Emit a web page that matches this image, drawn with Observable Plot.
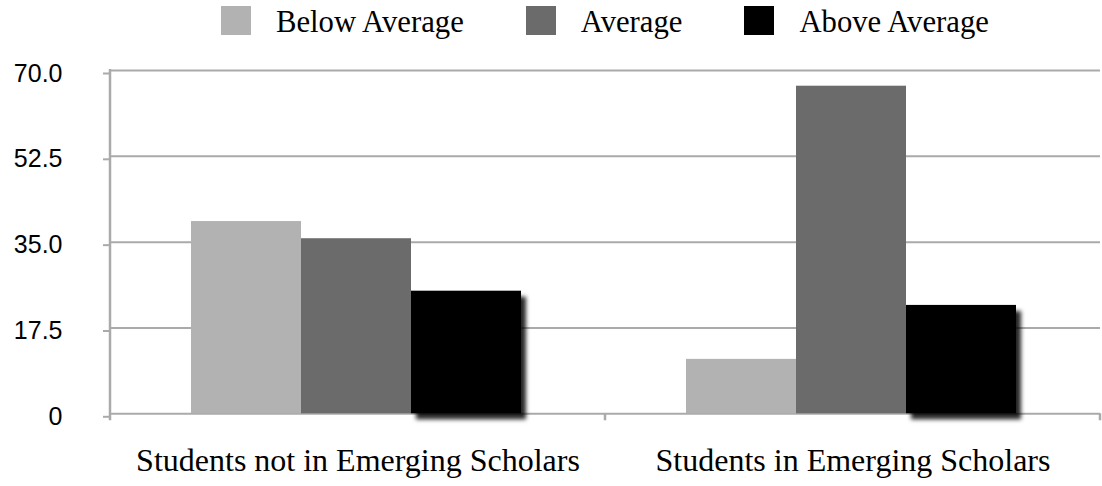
<!DOCTYPE html>
<html><head><meta charset="utf-8">
<script src="https://cdn.jsdelivr.net/npm/d3@7"></script>
<script src="https://cdn.jsdelivr.net/npm/@observablehq/plot@0.6"></script>
<style>
body{margin:0;background:#fff;}
#legend{height:41px;padding-top:7px;display:flex;align-items:flex-start;padding-left:221px;font-family:"Liberation Serif","Times New Roman",serif;font-size:30.7px;line-height:1;color:#000;}
.item{display:flex;align-items:flex-start;margin-right:62px;}
.sw{width:30px;height:29px;margin-right:25px;margin-top:-1px;}
#chart svg{display:block;}
</style></head><body>
<div id="legend"></div>
<div id="chart"></div>
<script>
const categories = ["Students not in Emerging Scholars", "Students in Emerging Scholars"];
const seriesNames = ["Below Average", "Average", "Above Average"];
const belowAverage = [39.2, 11.1];
const average = [35.7, 66.8];
const aboveAverage = [25.0, 22.1];
const yTicks = [0, 17.5, 35, 52.5, 70];
const seriesColors = ["#b2b2b2", "#6b6b6b", "#000000"];

const seriesValues = [belowAverage, average, aboveAverage];
const data = [];
categories.forEach((c, i) => seriesNames.forEach((s, j) => data.push({category: c, series: s, value: seriesValues[j][i]})));

// legend
const legend = d3.select("#legend");
seriesNames.forEach((s, j) => {
  const it = legend.append("div").attr("class", "item");
  it.append("div").attr("class", "sw").style("background", seriesColors[j]);
  it.append("div").text(s);
});

const W = 1102, H = 438, mL = 110, mR = 2, mT = 22, mB = 72.7;
const plot = Plot.plot({
  width: W, height: H, marginTop: mT, marginBottom: mB, marginLeft: mL, marginRight: mR,
  style: {background: "white", fontFamily: "'Liberation Sans', Arial, sans-serif", color: "#000"},
  fx: {domain: categories, padding: 0, axis: null},
  x: {domain: seriesNames, paddingInner: 0, paddingOuter: 0.74, axis: null},
  y: {domain: [0, 70], axis: null},
  color: {domain: seriesNames, range: seriesColors},
  marks: [
    Plot.gridY(yTicks, {stroke: "#aaaaaa", strokeOpacity: 1, strokeWidth: 2}),
    Plot.axisY(yTicks, {anchor: "left", tickSize: 7, tickPadding: 41, stroke: "#aaaaaa", strokeWidth: 2, fontSize: 25, fill: "#000", label: null, dy: 3,
      tickFormat: d => d === 0 ? "0" : d.toFixed(1)}),
    Plot.barY(data, {fx: "category", x: "series", y: "value", fill: "series", dx: -2}),
    Plot.text(categories, {fx: d => d, text: d => d, frameAnchor: "bottom", dy: 57, lineAnchor: "bottom", fontSize: 32, fontFamily: "'Liberation Serif','Times New Roman',serif", fill: "#000"})
  ]
});
document.getElementById("chart").appendChild(plot);

const svg = d3.select(plot);
svg.selectAll("rect").filter(function() { return (this.getAttribute("fill") || "").toLowerCase() === "#000000"; })
  .style("filter", "drop-shadow(5px 6px 2px rgba(0,0,0,0.85))");

// axis line and category boundary ticks derived from scales
const y = plot.scale("y");
const fx = plot.scale("fx");
const g = svg.append("g").attr("stroke", "#aaaaaa").attr("stroke-width", 2.5);
const y0 = y.apply(0), yTop = y.apply(70);
g.append("line").attr("x1", mL).attr("x2", mL).attr("y1", yTop - 1).attr("y2", y0 + 7);
const bounds = categories.map(c => fx.apply(c)).concat([fx.apply(categories[categories.length - 1]) + fx.bandwidth]);
bounds.slice(1).forEach(b => g.append("line").attr("x1", b).attr("x2", b).attr("y1", y0).attr("y2", y0 + 7));
</script>
</body></html>
